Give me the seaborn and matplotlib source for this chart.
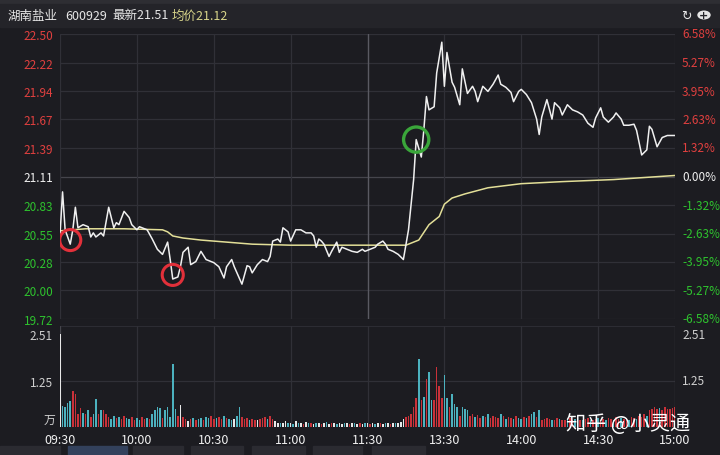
import numpy as np
import pandas as pd
import matplotlib.pyplot as plt
import seaborn as sns
from matplotlib.patches import Rectangle, Circle
from matplotlib.transforms import blended_transform_factory

sns.set_style("dark")
plt.rcParams['font.family'] = ['Noto Sans CJK SC', 'DejaVu Sans']
plt.rcParams['axes.unicode_minus'] = False

# ==========================
# DATA
# ==========================
prev_close = 21.11

# minute index from 09:30 (0) to 15:00 (240), lunch break collapsed at 120
price_min = [0, 1, 2, 4, 5, 6, 7, 9, 11, 12, 13, 14, 16, 17, 19, 21, 22, 23, 25, 27,
             28, 30, 31, 32, 34, 36, 38, 40, 42, 43, 44, 46, 47, 48, 50, 51, 53, 55, 57, 60,
             62, 64, 65, 67, 68, 71, 73, 74, 75, 77, 79, 81, 82, 83, 85, 86, 87, 89, 90, 92,
             94, 96, 98, 99, 100, 101, 102, 103, 105, 106, 108, 109, 110, 112, 114, 116, 118, 119, 121, 123,
             124, 126, 127, 128, 130, 132, 134, 136, 138, 139, 141, 142, 143, 144, 146, 147, 149, 150, 151, 153,
             154, 156, 157, 159, 161, 162, 163, 165, 167, 169, 171, 172, 174, 176, 177, 179, 180, 182, 184, 186,
             187, 188, 190, 192, 193, 195, 196, 198, 200, 202, 204, 206, 208, 209, 211, 212, 214, 216, 217, 219,
             220, 222, 224, 225, 227, 229, 230, 231, 233, 235, 237, 240]
price_val = [20.54, 20.96, 20.59, 20.45, 20.59, 20.81, 20.61, 20.64, 20.62, 20.52, 20.56, 20.52, 20.56, 20.53, 20.81, 20.61, 20.66, 20.64, 20.77, 20.71,
             20.64, 20.59, 20.62, 20.61, 20.59, 20.50, 20.40, 20.35, 20.47, 20.30, 20.11, 20.13, 20.23, 20.37, 20.42, 20.25, 20.28, 20.38, 20.30, 20.27,
             20.23, 20.12, 20.23, 20.30, 20.23, 20.06, 20.24, 20.23, 20.17, 20.25, 20.30, 20.28, 20.33, 20.48, 20.50, 20.47, 20.61, 20.57, 20.48, 20.59,
             20.59, 20.56, 20.56, 20.53, 20.42, 20.50, 20.48, 20.45, 20.33, 20.38, 20.47, 20.37, 20.42, 20.40, 20.38, 20.37, 20.40, 20.38, 20.40, 20.42,
             20.45, 20.48, 20.45, 20.40, 20.38, 20.35, 20.30, 20.59, 21.08, 21.47, 21.30, 21.57, 21.89, 21.76, 21.79, 22.12, 22.42, 21.99, 22.32, 22.03,
             21.98, 21.81, 22.16, 21.92, 21.99, 21.94, 21.84, 21.99, 21.94, 22.01, 22.10, 22.01, 21.98, 21.93, 21.84, 21.94, 21.96, 21.91, 21.83, 21.67,
             21.52, 21.69, 21.86, 21.67, 21.83, 21.78, 21.71, 21.81, 21.76, 21.74, 21.71, 21.63, 21.59, 21.68, 21.78, 21.69, 21.64, 21.69, 21.73, 21.67,
             21.61, 21.61, 21.62, 21.56, 21.32, 21.37, 21.60, 21.57, 21.40, 21.49, 21.51, 21.51]

avg_min = [0, 10, 25, 40, 42, 44, 48, 55, 70, 75, 90, 120, 135, 140, 144, 148, 150, 153, 158, 167, 180, 196, 216, 240]
avg_val = [20.58, 20.60, 20.60, 20.59, 20.57, 20.53, 20.51, 20.49, 20.46, 20.45, 20.44, 20.44, 20.44, 20.49, 20.64, 20.72, 20.84, 20.90, 20.94, 21.00, 21.04, 21.06, 21.08, 21.12]

vol = [2.51, 0.57, 0.55, 0.65, 0.70, 0.97, 0.90, 0.35, 0.52, 0.38,
       0.35, 0.47, 0.28, 0.35, 0.75, 0.35, 0.47, 0.47, 0.35, 0.28,
       0.22, 0.30, 0.25, 0.28, 0.22, 0.30, 0.25, 0.22, 0.28, 0.20,
       0.25, 0.20, 0.28, 0.22, 0.25, 0.22, 0.35, 0.45, 0.55, 0.52,
       0.25, 0.45, 0.55, 0.28, 1.70, 0.50, 0.30, 0.60, 0.28, 0.22,
       0.15, 0.22, 0.25, 0.18, 0.22, 0.25, 0.20, 0.28, 0.25, 0.30,
       0.22, 0.25, 0.28, 0.22, 0.30, 0.25, 0.22, 0.18, 0.22, 0.30,
       0.55, 0.28, 0.22, 0.25, 0.18, 0.22, 0.20, 0.18, 0.22, 0.25,
       0.28, 0.22, 0.30, 0.22, 0.15, 0.12, 0.10, 0.12, 0.15, 0.10,
       0.12, 0.08, 0.15, 0.10, 0.12, 0.08, 0.14, 0.10, 0.12, 0.09,
       0.10, 0.12, 0.08, 0.11, 0.13, 0.09, 0.12, 0.10, 0.08, 0.11,
       0.09, 0.12, 0.10, 0.08, 0.11, 0.10, 0.09, 0.12, 0.08, 0.10,
       0.12, 0.09, 0.10, 0.08, 0.11, 0.10, 0.09, 0.12, 0.10, 0.08,
       0.11, 0.10, 0.12, 0.14, 0.22, 0.28, 0.30, 0.35, 0.55, 0.78,
       1.84, 0.72, 0.82, 1.30, 1.50, 0.72, 0.72, 1.62, 1.12, 0.78,
       1.40, 0.78, 0.55, 0.90, 0.62, 0.55, 0.30, 0.55, 0.50, 0.45,
       0.30, 0.35, 0.28, 0.32, 0.25, 0.30, 0.28, 0.35, 0.25, 0.30,
       0.28, 0.25, 0.35, 0.30, 0.22, 0.28, 0.25, 0.22, 0.30, 0.25,
       0.22, 0.28, 0.25, 0.30, 0.35, 0.40, 0.28, 0.45, 0.20, 0.22,
       0.25, 0.22, 0.20, 0.18, 0.25, 0.22, 0.20, 0.18, 0.22, 0.25,
       0.20, 0.22, 0.25, 0.18, 0.20, 0.22, 0.25, 0.20, 0.18, 0.22,
       0.25, 0.20, 0.22, 0.18, 0.25, 0.22, 0.20, 0.28, 0.22, 0.25,
       0.22, 0.25, 0.20, 0.28, 0.25, 0.22, 0.30, 0.28, 0.35, 0.30,
       0.45, 0.50, 0.55, 0.48, 0.52, 0.45, 0.55, 0.50, 0.48, 0.52, 0.55]
vol_col = ("wggggrrrrg" "rgrggrgrrr" "ggrgrrggrr" "ggrrgrgggg" "rgggggrwrr"
           "wrgrggrggr" "rgrrgrggwg" "grrrgrrwrr" "rgrrwwgwwg" "wgwgwrwgrw"
           "gwrwgwrwgw" "wgwrwgwrwg" "wrwgwrwgwr" "wgwwwrrrrr" "grgrggrrrr"
           "ggrgggrggg" "rrgrrgrgrr" "rrgrgrrgrg" "grgrggrgrr" "rrgrrgrrgr"
           "rgrrgrrgrr" "grrgrrgrrg" "rrgrrgrrrg" "rrrrgrrrrrr")

price_ticks = [19.72, 20.00, 20.28, 20.55, 20.83, 21.11, 21.39, 21.67, 21.94, 22.22, 22.50]
pct_labels = ["-6.58%", "-5.27%", "-3.95%", "-2.63%", "-1.32%", "0.00%",
              "1.32%", "2.63%", "3.95%", "5.27%", "6.58%"]
vol_ticks = [1.25, 2.51]
time_ticks = [0, 30, 60, 90, 120, 150, 180, 210, 240]
time_labels = ["09:30", "10:00", "10:30", "11:00", "11:30", "13:30", "14:00", "14:30", "15:00"]

red_marks = [4, 44]
green_marks = [139]

# ==========================
# COLOURS
# ==========================
BG = "#1c1c21"
GRID = "#303037"
UP = "#e0403f"
DOWN = "#2ec22e"
BAR_UP = "#c93139"
BAR_DOWN = "#4cb2bf"
LABEL = "#cfcfcf"

fig = plt.figure(figsize=(7.2, 4.56), dpi=100, facecolor=BG)

W, H = 720, 456
def fx(px):
    return px / W
def fy(py):
    return 1 - py / H

# header
fig.add_artist(Rectangle((0, fy(5)), 1, 5 / H, transform=fig.transFigure,
                         color="#2e2e33", zorder=0))
fig.add_artist(Rectangle((0, fy(28)), 1, (28 - 5) / H, transform=fig.transFigure,
                         color="#242429", zorder=0))
fig.text(fx(8), fy(16), "湖南盐业", color="#e6e6e6", fontsize=9, va="center")
fig.text(fx(65), fy(16), "600929", color="#e6e6e6", fontsize=9, va="center")
fig.text(fx(112), fy(16), "最新21.51", color="#e6e6e6", fontsize=9, va="center")
fig.text(fx(172), fy(16), "均价21.12", color="#d8d58a", fontsize=9, va="center")
fig.text(fx(686), fy(16), "↻", color="#e6e6e6", fontsize=9, va="center", ha="center",
         family="DejaVu Sans")
fig.add_artist(Circle((fx(704), fy(16)), 6 / W, transform=fig.transFigure,
                      color="#e6e6e6"))
fig.text(fx(704), fy(16), "+", color="#25252a", fontsize=8, va="center", ha="center",
         fontweight="bold", family="DejaVu Sans")

# bottom tabs
for x0, x1, c in [(0, 60, "#2b2b31"), (68, 127, "#33415c"), (133, 183, "#2b2b31"),
                  (191, 243, "#2b2b31"), (252, 305, "#2b2b31"), (313, 362, "#2b2b31"),
                  (372, 425, "#2b2b31")]:
    fig.add_artist(Rectangle((fx(x0), 0), (x1 - x0) / W, 9 / H,
                             transform=fig.transFigure, color=c, zorder=0))

# ==========================
# PRICE PANEL
# ==========================
ax = fig.add_axes([fx(60), fy(320), 615 / W, 285 / H])
ax.set_facecolor(BG)
for s in ax.spines.values():
    s.set_visible(False)

for t in price_ticks:
    ax.axhline(t, color="#45454c" if t == prev_close else GRID, lw=0.9, zorder=1)
for t in time_ticks:
    if t == 120:
        ax.axvline(t, color="#5a5a62", lw=1.0, zorder=1)
    else:
        ax.axvline(t, color=GRID, lw=0.9, zorder=1)

price_df = pd.DataFrame({"minute": price_min, "price": price_val})
avg_df = pd.DataFrame({"minute": avg_min, "avg": avg_val})
sns.lineplot(data=avg_df, x="minute", y="avg", color="#e3df98", lw=1.1, ax=ax, zorder=3)
sns.lineplot(data=price_df, x="minute", y="price", color="#f0f0f0", lw=1.1, ax=ax, zorder=4)

lookup = dict(zip(price_min, price_val))
ax.scatter(red_marks, [lookup[m] + 0.04 for m in red_marks], s=230, facecolors="none",
           edgecolors="#e2303a", linewidths=2.2, zorder=5)
ax.scatter(green_marks, [lookup[m] for m in green_marks], s=330, facecolors="none",
           edgecolors="#3aa63a", linewidths=2.4, zorder=5)

ax.set_xlim(0, 240)
ax.set_ylim(price_ticks[0], price_ticks[-1])
ax.set_xticks([])
ax.set_yticks(price_ticks)
ax.set_yticklabels([f"{t:.2f}" for t in price_ticks], fontsize=8.5)
ax.tick_params(axis="y", length=0, pad=5)
for lab, t in zip(ax.get_yticklabels(), price_ticks):
    lab.set_color(UP if t > prev_close else (DOWN if t < prev_close else "#f0f0f0"))
ax.set_xlabel("")
ax.set_ylabel("")

trans = blended_transform_factory(ax.transAxes, ax.transData)
for t, lab in zip(price_ticks, pct_labels):
    c = UP if t > prev_close else (DOWN if t < prev_close else "#f0f0f0")
    ax.text(1 + 7 / 615, t, lab, color=c, fontsize=8.5, va="center", ha="left",
            transform=trans, clip_on=False)

# ==========================
# VOLUME PANEL
# ==========================
axv = fig.add_axes([fx(60), fy(428), 615 / W, 101 / H])
axv.set_facecolor(BG)
for s in axv.spines.values():
    s.set_visible(False)
axv.axhline(2.73, color=GRID, lw=1.2, zorder=1)
axv.axhline(1.25, color=GRID, lw=0.9, zorder=1)
for t in time_ticks:
    axv.axvline(t, color="#45454c" if t in (0, 240) else GRID, lw=0.9, zorder=1)

vol_df = pd.DataFrame({"minute": np.arange(len(vol)), "vol": vol, "dir": list(vol_col)})
sns.barplot(data=vol_df, x="minute", y="vol", hue="dir",
            palette={"r": BAR_UP, "g": BAR_DOWN, "w": "#e8e8e8"},
            native_scale=True, width=0.6, dodge=False, legend=False,
            errorbar=None, saturation=1, linewidth=0, ax=axv, zorder=3)

axv.set_xlim(0, 240)
axv.set_ylim(0, 2.73)
axv.set_yticks(vol_ticks)
axv.set_yticklabels([f"{t:.2f}" for t in vol_ticks], fontsize=8.5, color=LABEL)
axv.tick_params(axis="y", length=0, pad=5)
axv.set_xticks(time_ticks)
axv.set_xticklabels(time_labels, fontsize=9, color="#f0f0f0")
axv.tick_params(axis="x", length=0, pad=4)
axv.set_xlabel("")
axv.set_ylabel("")

transv = blended_transform_factory(axv.transAxes, axv.transData)
axv.text(-5 / 615, 0.2, "万", color=LABEL, fontsize=8.5, va="center", ha="right",
         transform=transv, clip_on=False)
for t in vol_ticks:
    axv.text(1 + 7 / 615, t, f"{t:.2f}", color=LABEL, fontsize=8.5, va="center",
             ha="left", transform=transv, clip_on=False)

# watermark
fig.text(fx(566), fy(425), "知乎 @小灵通", color="#ffffff", fontsize=14.5,
         va="center", ha="left", zorder=10)

fig.savefig("out.png", dpi=100, facecolor=BG)
